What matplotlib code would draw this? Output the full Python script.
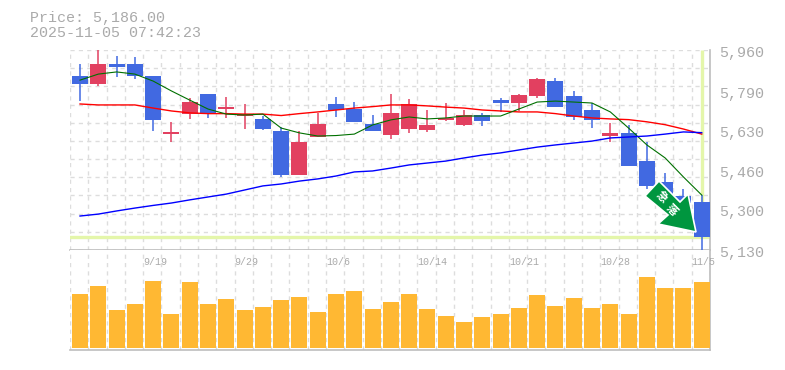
import matplotlib
matplotlib.use('Agg')
import matplotlib.pyplot as plt
from matplotlib.patches import Polygon
from matplotlib.transforms import Affine2D, blended_transform_factory

W, H = 785, 370

# candles, oldest first
opens = [5852, 5819, 5902, 5902, 5852, 5611, 5694, 5777, 5715, 5686, 5674, 5624, 5441, 5599, 5736, 5715, 5653, 5607,
         5632, 5628, 5670, 5649, 5690, 5752, 5740, 5769, 5831, 5769, 5711, 5603, 5616, 5499, 5412, 5354, 5329]
closes = [5819, 5902, 5889, 5852, 5670, 5620, 5744, 5694, 5723, 5694, 5632, 5441, 5578, 5653, 5711, 5661, 5624, 5699,
          5736, 5649, 5678, 5690, 5665, 5740, 5773, 5840, 5723, 5682, 5670, 5616, 5479, 5396, 5350, 5325, 5186]
highs = [5902, 5960, 5935, 5931, 5852, 5661, 5761, 5777, 5765, 5736, 5686, 5640, 5624, 5699, 5765, 5744, 5690, 5777,
         5757, 5711, 5740, 5711, 5699, 5761, 5777, 5844, 5844, 5790, 5740, 5657, 5649, 5578, 5450, 5383, 5358]
lows = [5748, 5811, 5848, 5840, 5624, 5578, 5674, 5678, 5678, 5632, 5628, 5433, 5441, 5599, 5682, 5661, 5624, 5591,
        5616, 5620, 5665, 5645, 5645, 5703, 5707, 5761, 5723, 5670, 5636, 5578, 5479, 5383, 5340, 5310, 5130]

ma_short = [5835, 5860, 5869, 5860, 5831, 5790, 5752, 5715, 5694, 5690, 5694, 5636, 5616, 5603, 5605, 5611, 5649, 5670,
            5682, 5674, 5678, 5686, 5686, 5686, 5715, 5744, 5748, 5744, 5740, 5703, 5636, 5566, 5512, 5433, 5358]
ma_mid = [5736, 5732, 5732, 5732, 5719, 5707, 5699, 5696, 5696, 5694, 5694, 5688, 5696, 5703, 5711, 5719, 5725, 5732,
          5732, 5728, 5723, 5719, 5711, 5707, 5703, 5703, 5696, 5686, 5678, 5674, 5671, 5662, 5650, 5632, 5611]
ma_long = [5271, 5279, 5292, 5304, 5315, 5325, 5338, 5350, 5362, 5379, 5396, 5404, 5416, 5425, 5437, 5454, 5458, 5470,
           5483, 5491, 5499, 5512, 5524, 5533, 5545, 5557, 5566, 5574, 5582, 5595, 5599, 5603, 5611, 5620, 5617]

volumes = [54, 62, 38, 44, 67, 34, 66, 44, 49, 38, 41, 48, 51, 36, 54, 57, 39, 46,
           54, 39, 32, 26, 31, 34, 40, 53, 42, 50, 40, 44, 34, 71, 60, 60, 66]

price_ticks = [5130, 5300, 5460, 5630, 5790, 5960]
date_idx = [4, 9, 14, 19, 24, 29, 34]
date_labels = ['9/19', '9/29', '10/6', '10/14', '10/21', '10/28', '11/5']

price_now = 5186
title_lines = ['Price: 5,186.00', '2025-11-05 07:42:23']
arrow_label = '急落'

BLUE = '#4169e1'
RED = '#e24060'
GRID = '#dddddd'
AXIS = '#bdbdbd'
TEXT = '#aaaaaa'
PALE = '#e4f6aa'
FONT = 'Liberation Mono'

n = len(closes)
x_left = -0.548
x_right = n - 0.548


def px_axes(fig, left, top, right, bottom):
    return fig.add_axes([left / W, 1 - bottom / H, (right - left) / W, (bottom - top) / H])


fig = plt.figure(figsize=(W / 100, H / 100), dpi=100, facecolor='white')
ax = px_axes(fig, 70, 50, 710, 250)
ax_vol = px_axes(fig, 70, 250, 710, 350)

# price panel
ax.set_xlim(x_left, x_right)
ax.set_ylim(5130, 5960)
for i in range(n + 1):
    ax.axvline(x_left + i, color=GRID, lw=1, ls=(0, (3, 3)), zorder=1)
    ax_vol.axvline(x_left + i, color=GRID, lw=1, ls=(0, (3, 3)), zorder=1)
for i in range(11):
    ax.axhline(5130 + i * 830 / 11, color=GRID, lw=1, ls=(0, (3, 3)), zorder=1)
ax.axhline(5960, color=GRID, lw=1, ls=(0, (3, 3)), zorder=1)

ax.vlines(n - 1, price_now, 5960, color=PALE, lw=2.4, zorder=2)
ax.axhline(price_now, color=PALE, lw=2.4, zorder=2)

for i in range(n):
    c = RED if closes[i] > opens[i] else BLUE
    ax.vlines(i, lows[i], highs[i], color=c, lw=1.1, zorder=3)
    ax.bar(i, abs(closes[i] - opens[i]), bottom=min(opens[i], closes[i]), width=0.876, color=c, zorder=3)

xs = list(range(n))
ax.plot(xs, ma_mid, color='#ff0000', lw=1, zorder=4)
ax.plot(xs, ma_short, color='#007000', lw=0.8, zorder=4)
ax.plot(xs, ma_long, color='#0000ff', lw=1, zorder=4)

for s in ['top', 'left']:
    ax.spines[s].set_visible(False)
    ax_vol.spines[s].set_visible(False)
for a in [ax, ax_vol]:
    a.spines['right'].set_color(AXIS)
    a.spines['bottom'].set_color(AXIS)
    a.spines['right'].set_linewidth(1.2)
    a.spines['bottom'].set_linewidth(1.2)
ax.set_xticks([])
ax.yaxis.tick_right()
ax.set_yticks(price_ticks)
ax.set_yticklabels([f'{t:,}' for t in price_ticks], family=FONT, fontsize=10.8, color=TEXT)
ax.tick_params(axis='y', length=0, pad=6.7)
for t in ax.get_yticklabels():
    t.set_verticalalignment('center')
    t.set_transform(t.get_transform() + Affine2D().translate(0, -3))

# volume panel
ax_vol.set_xlim(x_left, x_right)
ax_vol.set_ylim(-2, 98)
ax_vol.bar(xs, volumes, width=0.876, color='#ffb833', zorder=3)
ax_vol.set_xticks([])
ax_vol.set_yticks([])
trans = blended_transform_factory(ax_vol.transData, fig.transFigure)
for i, lab in zip(date_idx, date_labels):
    ax_vol.text(i - 0.548, 1 - 262 / H, lab, transform=trans, ha='left', va='center',
                family=FONT, fontsize=7.2, color=TEXT, zorder=5)

# falling-price marker, drawn in figure pixels
to_fig = Affine2D().scale(1 / W, -1 / H).translate(0, 1) + fig.transFigure
arrow_pts = [(659, 181), (680, 202), (688, 194), (696, 232), (658, 224), (668, 215), (645, 196)]
fig.add_artist(Polygon(arrow_pts, closed=True, facecolor='#00963f', edgecolor='white', lw=1.2, transform=to_fig, zorder=6))
for ch, (cx, cy) in zip(arrow_label, [(662, 197), (672, 210)]):
    fig.text(cx / W, 1 - cy / H, ch, rotation=-45, rotation_mode='anchor', ha='center', va='center',
             family='Noto Sans CJK JP', fontsize=8, fontweight='bold', color='white', zorder=7)

fig.text(30 / W, 1 - 18 / H, title_lines[0], family=FONT, fontsize=10.8, color=TEXT, va='center')
fig.text(30 / W, 1 - 33 / H, title_lines[1], family=FONT, fontsize=10.8, color=TEXT, va='center')

fig.savefig('out.png', dpi=100)
